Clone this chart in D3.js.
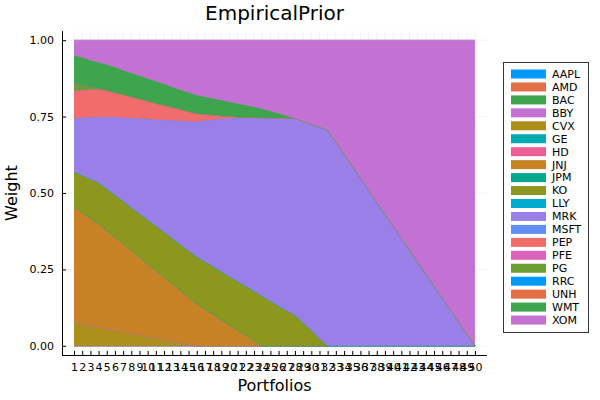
<!DOCTYPE html>
<html>
<head>
<meta charset="utf-8">
<script src="https://cdn.jsdelivr.net/npm/d3@7"></script>
<style>
  html, body { margin: 0; padding: 0; background: #fff; }
  svg { display: block; font-family: "DejaVu Sans", sans-serif; }
</style>
</head>
<body>
<svg id="chart" width="600" height="400"></svg>
<script>
// ---------- data ----------
const title = "EmpiricalPrior";
const xLabel = "Portfolios";
const yLabel = "Weight";
const assets = ["AAPL","AMD","BAC","BBY","CVX","GE","HD","JNJ","JPM","KO","LLY","MRK","MSFT","PEP","PFE","PG","RRC","UNH","WMT","XOM"];
const portfolios = [1,2,3,4,5,6,7,8,9,10,11,12,13,14,15,16,17,18,19,20,21,22,23,24,25,26,27,28,29,30,31,32,33,34,35,36,37,38,39,40,41,42,43,44,45,46,47,48,49,50];
const yTicks = [0, 0.25, 0.5, 0.75, 1.0];
const yTickLabels = ["0.00", "0.25", "0.50", "0.75", "1.00"];
const palette = ["#009AFA","#E36F47","#3EA44E","#C371D2","#AC8E18","#00AAAE","#ED5E93","#C68225","#00A98D","#8E971D","#00A9CD","#9B7FE8","#618DF6","#F16C6C","#DC63BB","#6C9E33","#009AFA","#E36F47","#3EA44E","#C371D2"];

const zeros = [0,0,0,0,0,0,0,0,0,0,0,0,0,0,0,0,0,0,0,0,0,0,0,0,0,0,0,0,0,0,0,0,0,0,0,0,0,0,0,0,0,0,0,0,0,0,0,0,0,0];
const wAAPL = zeros, wAMD = zeros, wBAC = zeros, wBBY = zeros, wGE = zeros, wHD = zeros,
      wJPM = zeros, wLLY = zeros, wMSFT = zeros, wPFE = zeros, wRRC = zeros, wUNH = zeros;
const wCVX = [0.077,0.072,0.067,0.062,0.056,0.051,0.046,0.041,0.036,0.031,0.026,0.021,0.015,0.010,0.005,0,0,0,0,0,0,0,0,0,0,0,0,0,0,0,0,0,0,0,0,0,0,0,0,0,0,0,0,0,0,0,0,0,0,0];
const wJNJ = [0.378,0.365,0.351,0.338,0.322,0.305,0.289,0.272,0.255,0.238,0.221,0.205,0.189,0.172,0.155,0.138,0.121,0.104,0.086,0.069,0.052,0.035,0.017,0,0,0,0,0,0,0,0,0,0,0,0,0,0,0,0,0,0,0,0,0,0,0,0,0,0,0];
const wKO = [0.115,0.121,0.128,0.134,0.136,0.138,0.139,0.140,0.142,0.144,0.146,0.147,0.148,0.150,0.152,0.154,0.155,0.156,0.157,0.158,0.159,0.160,0.162,0.163,0.147,0.130,0.115,0.101,0.076,0.051,0.025,0,0,0,0,0,0,0,0,0,0,0,0,0,0,0,0,0,0,0];
const wMRK = [0.174,0.188,0.201,0.214,0.235,0.254,0.272,0.292,0.310,0.329,0.347,0.366,0.385,0.404,0.422,0.441,0.461,0.480,0.499,0.517,0.535,0.552,0.568,0.583,0.599,0.615,0.630,0.643,0.659,0.674,0.691,0.706,0.667,0.627,0.588,0.549,0.510,0.470,0.431,0.392,0.353,0.314,0.274,0.235,0.196,0.157,0.118,0.078,0.039,0];
const wPEP = [0.090,0.090,0.091,0.091,0.087,0.081,0.076,0.070,0.065,0.059,0.054,0.048,0.044,0.038,0.033,0.027,0.021,0.015,0.011,0.007,0.003,0,0,0,0,0,0,0,0,0,0,0,0,0,0,0,0,0,0,0,0,0,0,0,0,0,0,0,0,0];
const wPG = [0.024,0.016,0.009,0.003,0,0,0,0,0,0,0,0,0,0,0,0,0,0,0,0,0,0,0,0,0,0,0,0,0,0,0,0,0,0,0,0,0,0,0,0,0,0,0,0,0,0,0,0,0,0];
const wWMT = [0.093,0.091,0.088,0.085,0.084,0.082,0.080,0.078,0.076,0.074,0.072,0.070,0.066,0.064,0.062,0.060,0.057,0.054,0.051,0.047,0.044,0.040,0.035,0.029,0.022,0.016,0.007,0,0,0,0,0,0,0,0,0,0,0,0,0,0,0,0,0,0,0,0,0,0,0];
const wXOM = [0.049,0.057,0.065,0.073,0.080,0.089,0.098,0.107,0.116,0.125,0.134,0.143,0.153,0.162,0.171,0.180,0.185,0.191,0.196,0.202,0.207,0.213,0.218,0.225,0.232,0.239,0.248,0.256,0.265,0.275,0.284,0.294,0.333,0.373,0.412,0.451,0.490,0.530,0.569,0.608,0.647,0.686,0.726,0.765,0.804,0.843,0.882,0.922,0.961,1.0];

const weights = [wAAPL,wAMD,wBAC,wBBY,wCVX,wGE,wHD,wJNJ,wJPM,wKO,wLLY,wMRK,wMSFT,wPEP,wPFE,wPG,wRRC,wUNH,wWMT,wXOM];

// table for d3.stack
const table = portfolios.map((p, i) => {
  const row = { p: p };
  assets.forEach((a, j) => { row[a] = weights[j][i]; });
  return row;
});

// ---------- layout ----------
const svg = d3.select("#chart");
const L = 62, R = 487, T = 31, B = 355;
const x = d3.scaleLinear().domain([-0.47, 51.47]).range([L, R]);
const y = d3.scaleLinear().domain([-0.03, 1.03]).range([B, T]);

// grid
const grid = svg.append("g");
grid.selectAll(".vg").data(portfolios).enter().append("line")
  .attr("x1", d => x(d)).attr("x2", d => x(d)).attr("y1", T).attr("y2", B)
  .attr("stroke", "#000").attr("stroke-opacity", 0.1).attr("stroke-width", 0.5);
grid.selectAll(".hg").data(yTicks).enter().append("line")
  .attr("x1", L).attr("x2", R).attr("y1", d => y(d)).attr("y2", d => y(d))
  .attr("stroke", "#000").attr("stroke-opacity", 0.1).attr("stroke-width", 0.5);

// stacked areas
const stack = d3.stack().keys(assets).order(d3.stackOrderNone).offset(d3.stackOffsetNone);
const series = stack(table);
const area = d3.area().x(d => x(d.data.p)).y0(d => y(d[0])).y1(d => y(d[1]));
const line = d3.line().x(d => x(d.data.p)).y(d => y(d[1]));
const gA = svg.append("g");
series.forEach((s, i) => {
  gA.append("path").attr("d", area(s)).attr("fill", palette[i]).attr("stroke", "none");
  gA.append("path").attr("d", line(s)).attr("fill", "none").attr("stroke", palette[i]).attr("stroke-width", 1);
});

// axes
const yAxis = d3.axisLeft(y).tickValues(yTicks).tickFormat((d, i) => yTickLabels[i]).tickSizeInner(-4).tickSizeOuter(0).tickPadding(8);
const gy = svg.append("g").attr("transform", `translate(${L},0)`).call(yAxis);
gy.select(".domain").attr("d", `M0.5,${T}V${B}`).attr("stroke", "#000");
gy.selectAll("text").attr("font-size", 11).attr("fill", "#000").attr("font-family", "DejaVu Sans");

const xAxis = d3.axisBottom(x).tickValues(portfolios).tickFormat(d => String(d)).tickSizeInner(-4).tickSizeOuter(0).tickPadding(8);
const gx = svg.append("g").attr("transform", `translate(0,${B})`).call(xAxis);
gx.select(".domain").attr("d", `M${L},0.5H${R}`).attr("stroke", "#000");
gx.selectAll("text").attr("font-size", 11).attr("fill", "#000").attr("font-family", "DejaVu Sans");

// titles
svg.append("text").attr("x", (L + R) / 2).attr("y", 20).attr("text-anchor", "middle")
  .attr("font-size", 20).text(title);
svg.append("text").attr("x", (L + R) / 2).attr("y", 391).attr("text-anchor", "middle")
  .attr("font-size", 16).text(xLabel);
svg.append("text").attr("transform", `translate(17,${(T + B) / 2}) rotate(-90)`).attr("text-anchor", "middle")
  .attr("font-size", 16).text(yLabel);

// legend
const lg = svg.append("g");
lg.append("rect").attr("x", 503.5).attr("y", 62.5).attr("width", 85).attr("height", 270)
  .attr("fill", "#fff").attr("stroke", "#333").attr("stroke-width", 1);
assets.forEach((a, i) => {
  const cy = 74 + i * 12.95;
  lg.append("rect").attr("x", 511).attr("y", cy - 4.5).attr("width", 35).attr("height", 9).attr("fill", palette[i]);
  lg.append("text").attr("x", 552).attr("y", cy).attr("dy", "0.35em").attr("font-size", 11).text(a);
});
</script>
</body>
</html>
